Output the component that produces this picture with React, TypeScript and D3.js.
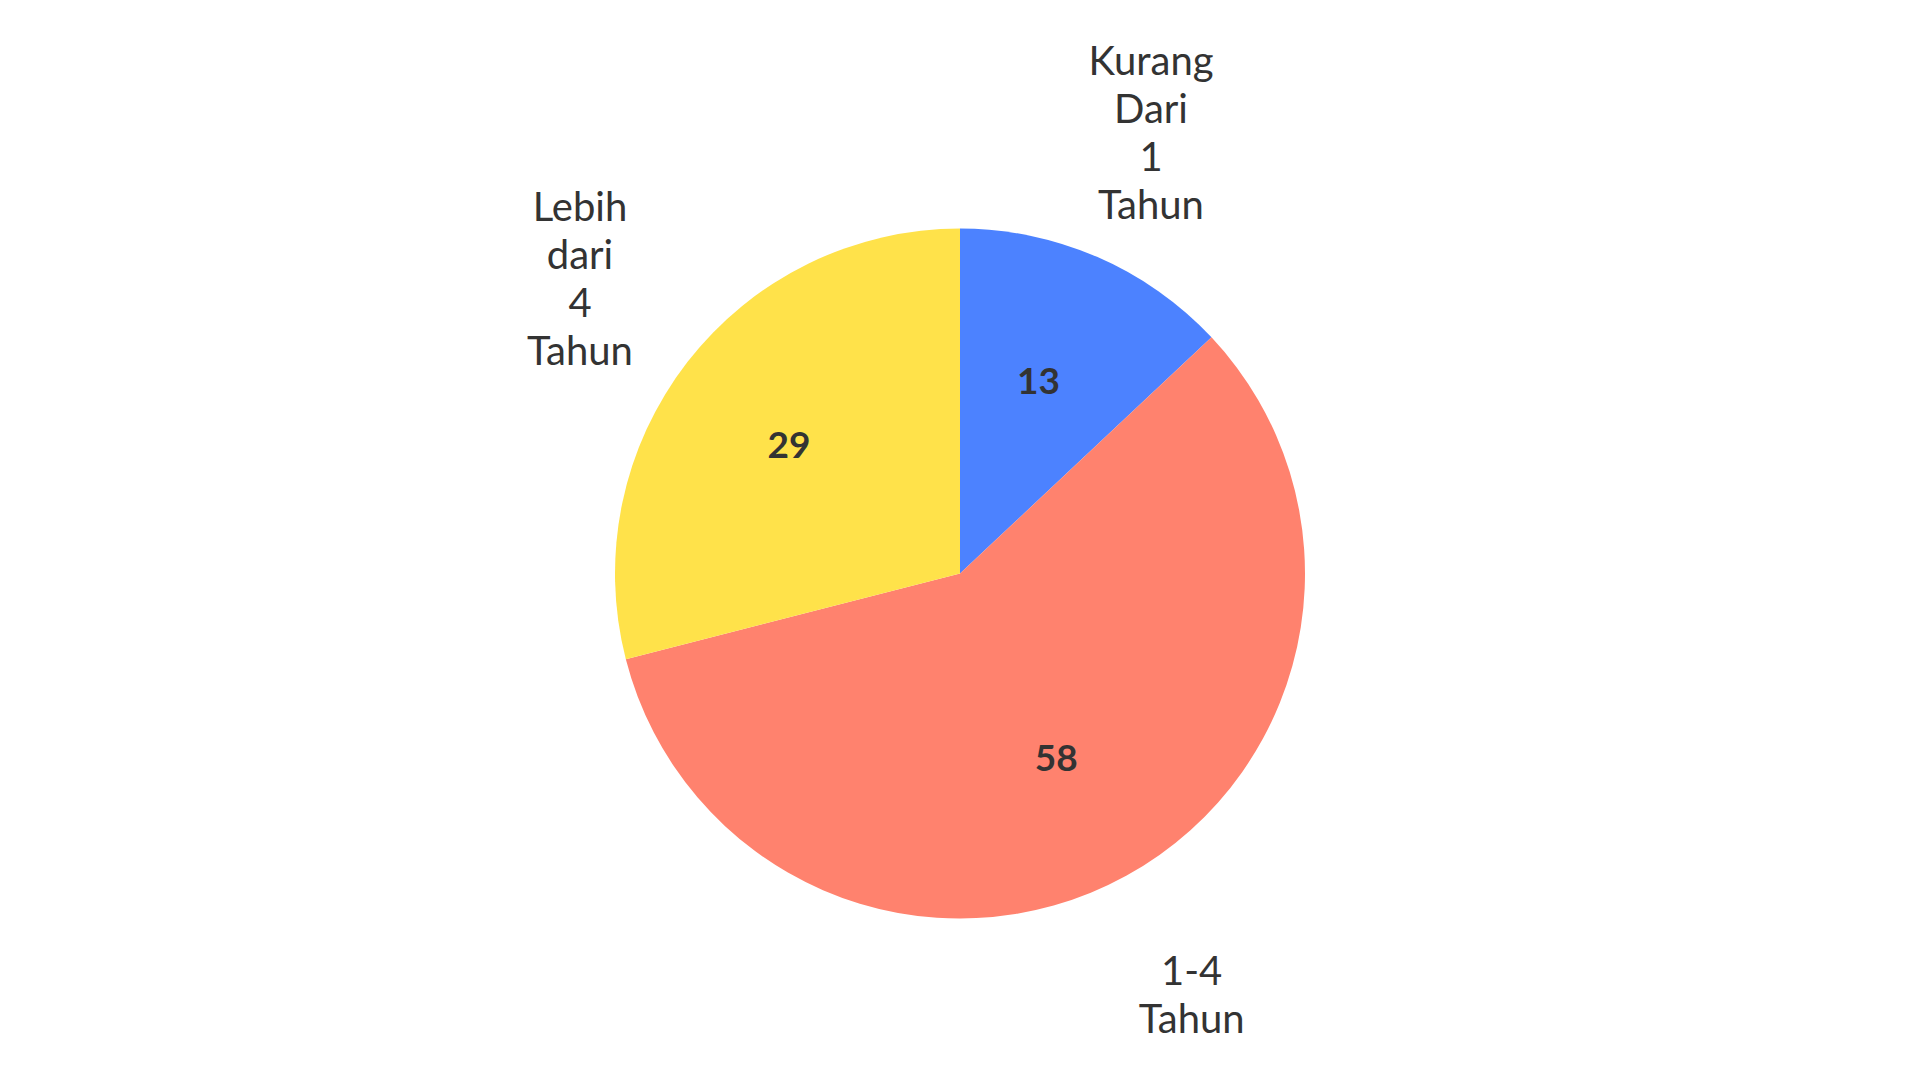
import * as d3 from 'd3';
import React, { useEffect, useRef } from 'react';

// data
const categories = ['Kurang Dari 1 Tahun', '1-4 Tahun', 'Lebih dari 4 Tahun'];
const values = [13, 58, 29];
const colors = ['#4c82ff', '#ff826e', '#ffe24a'];

export default function App() {
    const width = 1920;
    const height = 1080;
    const cx = 960;
    const cy = 573.5;
    const radius = 345;
    const ref = useRef<SVGSVGElement>(null);

    useEffect(() => {
        draw();
    }, []);

    const draw = () => {
        const svg = d3.select(ref.current);
        svg.selectAll('*').remove();

        const data = categories.map((c, i) => ({ label: c, value: values[i], color: colors[i] }));
        const pie = d3
            .pie<{ label: string; value: number; color: string }>()
            .value((d) => d.value)
            .sort(null);
        const arcs = pie(data);

        const arc = d3
            .arc<d3.PieArcDatum<{ label: string; value: number; color: string }>>()
            .innerRadius(0)
            .outerRadius(radius);

        const g = svg.append('g').attr('transform', `translate(${cx},${cy})`);

        g.selectAll('.slice')
            .data(arcs)
            .join('path')
            .classed('slice', true)
            .attr('d', arc)
            .style('fill', (d) => d.data.color);

        const mid = (d: d3.PieArcDatum<any>) => (d.startAngle + d.endAngle) / 2;

        // values inside the slices
        const valueSize = 37;
        const rIn = radius * 0.609;
        g.selectAll('.value')
            .data(arcs)
            .join('text')
            .classed('value', true)
            .attr('text-anchor', 'middle')
            .attr('x', (d) => rIn * Math.sin(mid(d)) - 5)
            .attr('y', (d) => -rIn * Math.cos(mid(d)) + valueSize * 0.36)
            .style('font-family', 'Lato, "Open Sans", sans-serif')
            .style('font-weight', 700)
            .style('font-size', `${valueSize}px`)
            .style('fill', '#333333')
            .text((d) => d.data.value);

        // category labels outside, one word per line
        const labelSize = 40;
        const lineHeight = 48;
        const rOut = radius * 1.394;
        const labels = g
            .selectAll('.label')
            .data(arcs)
            .join('text')
            .classed('label', true)
            .attr('text-anchor', 'middle')
            .style('font-family', 'Lato, "Open Sans", sans-serif')
            .style('font-size', `${labelSize}px`)
            .style('fill', '#333333');

        labels.each(function (d) {
            const words = d.data.label.split(' ');
            const x = rOut * Math.sin(mid(d));
            const y = -rOut * Math.cos(mid(d));
            const top = y - ((words.length - 1) * lineHeight) / 2 + labelSize * 0.36;
            d3.select(this)
                .selectAll('tspan')
                .data(words)
                .join('tspan')
                .attr('x', x)
                .attr('y', (w, i) => top + i * lineHeight)
                .text((w) => w);
        });
    };

    return (
        <div className="chart">
            <svg
                ref={ref}
                width={width}
                height={height}
                style={{ position: 'absolute', left: 0, top: 0, background: '#ffffff' }}
            ></svg>
        </div>
    );
}
